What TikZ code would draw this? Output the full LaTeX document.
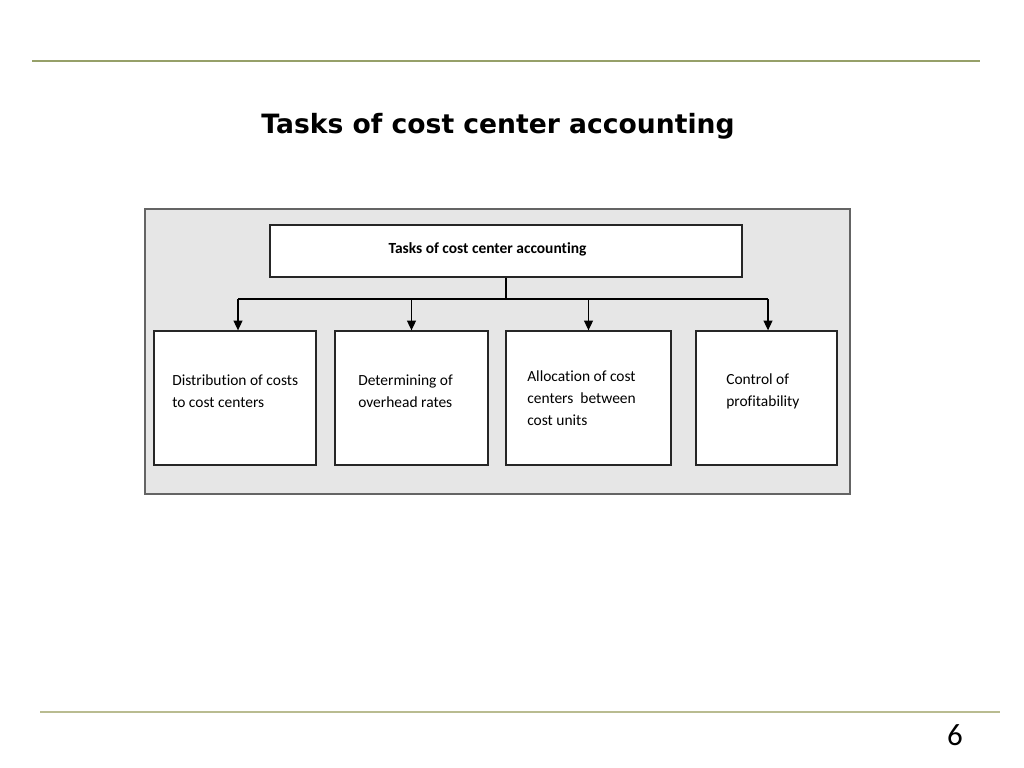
\documentclass[tikz,border=0pt]{standalone}
\usepackage{fontspec}
\setmainfont[Ligatures=NoCommon]{Carlito}
\newfontfamily\headfont{DejaVu Sans}
\usetikzlibrary{arrows.meta}
\definecolor{rulegreen}{RGB}{150,160,105}
\definecolor{rulelight}{RGB}{185,188,145}
\definecolor{panelgrey}{RGB}{230,230,230}
\definecolor{paneledge}{RGB}{100,100,100}
\tikzset{
  taskbox/.style={draw=black!85, fill=white, line width=0.9pt, inner sep=0pt},
  tasktext/.style={anchor=west, align=left, inner sep=0pt, font=\fontsize{11}{15.6}\selectfont},
  branch/.style={line width=0.9pt, -{Triangle[width=6.4pt,length=7pt]}}
}
\begin{document}
\begin{tikzpicture}[x=0.025cm, y=-0.025cm]
\useasboundingbox (0,0) rectangle (1024,768);
% rules and page number
\draw [rulegreen, line width=1.1pt] (32,61) -- (980,61);
\draw [rulelight, line width=1.3pt] (40,712) -- (1000,712);
\node (page) at (955,735) {\fontsize{22}{24}\selectfont 6};
\node (title) at (498,126) {\headfont\bfseries\fontsize{18.9}{22}\selectfont Tasks of cost center accounting};
% grey panel
\draw [fill=panelgrey, draw=paneledge, line width=1pt] (145,209) rectangle (850,494);
\node [taskbox, minimum width=11.8cm, minimum height=1.3cm] (head) at (506,251) {};
\node [anchor=center, inner sep=0pt, font=\bfseries\fontsize{11}{13}\selectfont] (headtext) at (487.5,249) {Tasks of cost center accounting};
\node [taskbox, minimum width=4.05cm, minimum height=3.35cm] (task1) at (235,398) {};
\node [taskbox, minimum width=3.825cm, minimum height=3.35cm] (task2) at (411.5,398) {};
\node [taskbox, minimum width=4.125cm, minimum height=3.35cm] (task3) at (588.5,398) {};
\node [taskbox, minimum width=3.525cm, minimum height=3.35cm] (task4) at (766.5,398) {};
\node [tasktext] (text1) at (172,391) {Distribution of costs\\to cost centers};
\node [tasktext] (text2) at (358,391) {Determining of\\overhead rates};
\node [tasktext] (text3) at (527,398) {Allocation of cost\\centers\ \ between\\cost units};
\node [tasktext] (text4) at (726,391) {Control of\\profitability};
% connectors
\coordinate (split) at (506,299);
\draw [line width=0.9pt] (head.south -| split) -- (split);
\draw [line width=0.9pt] (split -| 238,0) -- (split -| 768,0);
\draw [branch] (split -| 238,0) -- (task1.north -| 238,0);
\draw [branch] (split -| task2.north) -- (task2.north);
\draw [branch] (split -| task3.north) -- (task3.north);
\draw [branch] (split -| 768,0) -- (task4.north -| 768,0);
\end{tikzpicture}
\end{document}
